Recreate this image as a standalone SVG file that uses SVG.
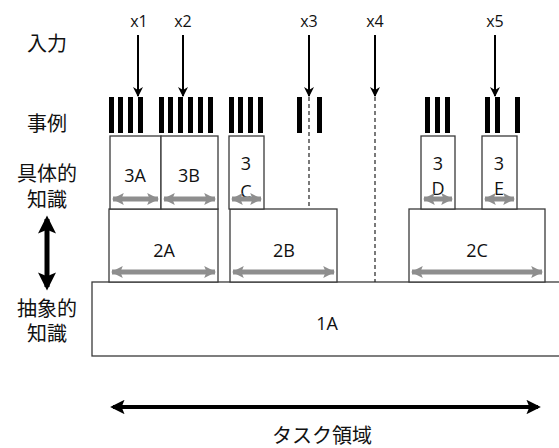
<svg xmlns="http://www.w3.org/2000/svg" width="559" height="448" viewBox="0 0 559 448">
  <style>
    .box { fill: #ffffff; stroke: #3a3a3a; stroke-width: 1.3; }
    .lbl { font-family: "Open Sans", "Liberation Sans", sans-serif; font-size: 18px; fill: #111; text-anchor: middle; }
    .xl { font-family: "Open Sans", "Liberation Sans", sans-serif; font-size: 16px; fill: #111; text-anchor: middle; }
    .jp { font-family: "Noto Sans CJK JP", "Noto Sans", sans-serif; font-size: 20px; fill: #111; text-anchor: middle; }
    .bar { fill: #000; }
    .span { stroke: #8e8e8e; stroke-width: 5; fill: none; marker-start: url(#gs); marker-end: url(#ge); }
    .inp { stroke: #000; stroke-width: 2; fill: none; marker-end: url(#ka); }
    .dash { stroke: #222; stroke-width: 1.2; stroke-dasharray: 4 3; fill: none; }
  </style>
  <defs>
    <marker id="ge" viewBox="0 0 10 10" refX="9" refY="5" markerWidth="2.4" markerHeight="2.6" orient="auto" markerUnits="strokeWidth">
      <path d="M0,0 L10,5 L0,10 L2,5 Z" fill="#8e8e8e"/>
    </marker>
    <marker id="gs" viewBox="0 0 10 10" refX="1" refY="5" markerWidth="2.4" markerHeight="2.6" orient="auto" markerUnits="strokeWidth">
      <path d="M10,0 L0,5 L10,10 L8,5 Z" fill="#8e8e8e"/>
    </marker>
    <marker id="ka" viewBox="0 0 10 10" refX="9" refY="5" markerWidth="6" markerHeight="5" orient="auto" markerUnits="strokeWidth">
      <path d="M0,0 L10,5 L0,10 L3,5 Z" fill="#000"/>
    </marker>
    <marker id="be" viewBox="0 0 10 10" refX="8" refY="5" markerWidth="4" markerHeight="3.6" orient="auto" markerUnits="strokeWidth">
      <path d="M0,0 L10,5 L0,10 L2,5 Z" fill="#000"/>
    </marker>
    <marker id="bs" viewBox="0 0 10 10" refX="2" refY="5" markerWidth="4" markerHeight="3.6" orient="auto" markerUnits="strokeWidth">
      <path d="M10,0 L0,5 L10,10 L8,5 Z" fill="#000"/>
    </marker>
  </defs>

  <!-- row captions -->
  <g id="captions">
    <text class="jp" x="47" y="51">入力</text>
    <text class="jp" x="47" y="131">事例</text>
    <text class="jp" x="47" y="181">具体的</text>
    <text class="jp" x="47" y="207">知識</text>
    <text class="jp" x="47" y="316">抽象的</text>
    <text class="jp" x="47" y="341">知識</text>
    <line x1="47" y1="219" x2="47" y2="287" stroke="#000" stroke-width="5" marker-start="url(#bs)" marker-end="url(#be)"/>
  </g>

  <!-- abstract level -->
  <g id="n1A">
    <rect class="box" x="92" y="282" width="470" height="74"/>
    <text class="lbl" x="327" y="330">1A</text>
  </g>

  <!-- middle level -->
  <g id="n2A">
    <rect class="box" x="109" y="209" width="109" height="73"/>
    <text class="lbl" x="164" y="257">2A</text>
  </g>
  <g id="n2B">
    <rect class="box" x="230" y="209" width="107" height="73"/>
    <text class="lbl" x="284" y="257">2B</text>
  </g>
  <g id="n2C">
    <rect class="box" x="409" y="209" width="136" height="73"/>
    <text class="lbl" x="477" y="257">2C</text>
  </g>

  <!-- concrete level -->
  <g id="n3A">
    <rect class="box" x="110" y="136" width="51" height="73"/>
    <text class="lbl" x="135" y="182">3A</text>
  </g>
  <g id="n3B">
    <rect class="box" x="161" y="136" width="57" height="73"/>
    <text class="lbl" x="189" y="182">3B</text>
  </g>
  <g id="n3C">
    <rect class="box" x="229" y="136" width="35" height="73"/>
    <text class="lbl" x="246" y="170">3</text>
    <text class="lbl" x="246" y="198">C</text>
  </g>
  <g id="n3D">
    <rect class="box" x="421" y="136" width="34" height="73"/>
    <text class="lbl" x="438" y="170">3</text>
    <text class="lbl" x="438" y="195">D</text>
  </g>
  <g id="n3E">
    <rect class="box" x="482" y="136" width="35" height="73"/>
    <text class="lbl" x="499" y="170">3</text>
    <text class="lbl" x="499" y="195">E</text>
  </g>

  <!-- case bars -->
  <g id="cases">
    <rect class="bar" x="109" y="97" width="5" height="36"/>
    <rect class="bar" x="118" y="97" width="5" height="36"/>
    <rect class="bar" x="128" y="97" width="5" height="36"/>
    <rect class="bar" x="138" y="97" width="5" height="36"/>
    <rect class="bar" x="159" y="97" width="5" height="36"/>
    <rect class="bar" x="168" y="97" width="5" height="36"/>
    <rect class="bar" x="178" y="97" width="5" height="36"/>
    <rect class="bar" x="188" y="97" width="5" height="36"/>
    <rect class="bar" x="198" y="97" width="5" height="36"/>
    <rect class="bar" x="208" y="97" width="5" height="36"/>
    <rect class="bar" x="229" y="97" width="5" height="36"/>
    <rect class="bar" x="238" y="97" width="5" height="36"/>
    <rect class="bar" x="248" y="97" width="5" height="36"/>
    <rect class="bar" x="258" y="97" width="5" height="36"/>
    <rect class="bar" x="297" y="97" width="5" height="36"/>
    <rect class="bar" x="317" y="97" width="5" height="36"/>
    <rect class="bar" x="425" y="97" width="5" height="36"/>
    <rect class="bar" x="435" y="97" width="5" height="36"/>
    <rect class="bar" x="445" y="97" width="5" height="36"/>
    <rect class="bar" x="485" y="97" width="5" height="36"/>
    <rect class="bar" x="495" y="97" width="5" height="36"/>
    <rect class="bar" x="515" y="97" width="5" height="36"/>
  </g>

  <!-- inputs -->
  <g id="inputs">
    <text class="xl" x="139" y="27">x1</text>
    <text class="xl" x="183" y="27">x2</text>
    <text class="xl" x="309" y="27">x3</text>
    <text class="xl" x="375" y="27">x4</text>
    <text class="xl" x="495" y="27">x5</text>
  </g>

  <!-- connectors -->
  <g id="connectors">
    <line class="inp" x1="138" y1="35" x2="138" y2="96"/>
    <line class="inp" x1="183" y1="35" x2="183" y2="96"/>
    <line class="inp" x1="309" y1="35" x2="309" y2="96"/>
    <line class="inp" x1="375" y1="35" x2="375" y2="96"/>
    <line class="inp" x1="495" y1="35" x2="495" y2="96"/>
    <line class="dash" x1="309" y1="97" x2="309" y2="209"/>
    <line class="dash" x1="375" y1="97" x2="375" y2="282"/>

    <line class="span" x1="113" y1="199" x2="158" y2="199"/>
    <line class="span" x1="164" y1="199" x2="215" y2="199"/>
    <line class="span" x1="232" y1="199" x2="261" y2="199"/>
    <line class="span" x1="424" y1="199" x2="452" y2="199"/>
    <line class="span" x1="485" y1="199" x2="514" y2="199"/>
    <line class="span" x1="112" y1="272" x2="215" y2="272"/>
    <line class="span" x1="233" y1="272" x2="334" y2="272"/>
    <line class="span" x1="412" y1="272" x2="542" y2="272"/>

    <line x1="113" y1="407" x2="538" y2="407" stroke="#000" stroke-width="4" marker-start="url(#bs)" marker-end="url(#be)"/>
  </g>

  <text class="jp" x="322" y="443">タスク領域</text>
</svg>
